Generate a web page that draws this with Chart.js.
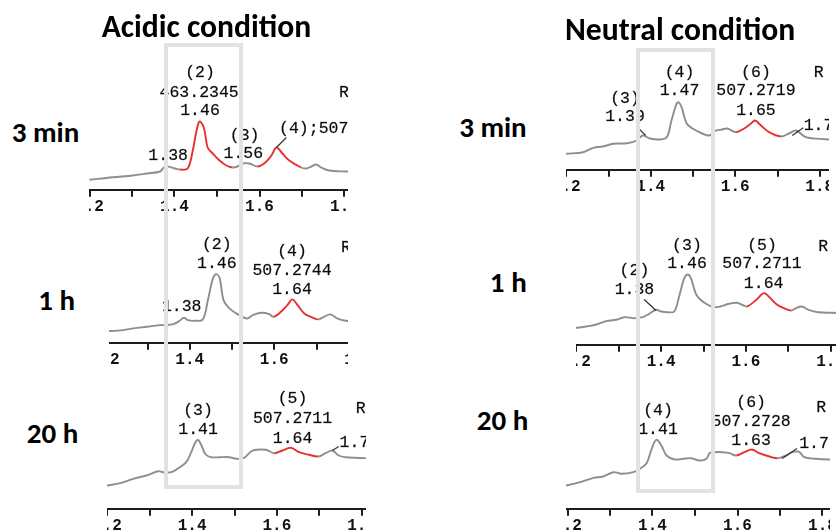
<!DOCTYPE html>
<html><head><meta charset="utf-8">
<script src="https://cdn.jsdelivr.net/npm/chart.js@4.4.1/dist/chart.umd.min.js"></script>
<style>
html,body{margin:0;padding:0;background:#fff;}
body{width:836px;height:530px;overflow:hidden;position:relative;}
.clip{position:absolute;top:0;height:530px;overflow:hidden;z-index:1;}
.clip canvas{position:absolute;}
.box{position:absolute;border:4px solid #e2e2e2;box-sizing:border-box;z-index:5;}
.lbl{position:absolute;font-weight:bold;color:#000;white-space:nowrap;z-index:6;}
</style></head><body>
<script>
// ---------------- data (retention time in min, intensity in arbitrary units) ----------------
// Acidic, 3 min
const tlRt  = [1.200,1.255,1.302,1.335,1.366,1.375,1.384,1.401,1.412,1.431,1.443,1.452,1.459,1.469,1.478,1.490,1.506,1.522,1.537,1.548,1.560,1.576,1.595,1.611,1.628,1.640,1.654,1.670,1.698,1.710,1.722,1.733,1.745,1.764,1.804,1.830];
const tlInt = [10,12.6,14.3,16.3,18.3,22.3,23.3,21.3,20.3,21.3,39.3,59.3,68.3,62.3,42.3,36.3,29.3,24.3,22.3,23.3,26.3,26.3,23.3,26.3,34.3,42.3,36.3,29.3,22.3,21.3,23.3,25.3,22.3,19.3,18.3,18];
const tlRed = [[1.412,1.537],[1.595,1.698]];
// Neutral, 3 min
const trRt  = [1.180,1.200,1.240,1.264,1.287,1.311,1.344,1.367,1.381,1.398,1.421,1.438,1.449,1.461,1.466,1.473,1.485,1.499,1.522,1.539,1.551,1.569,1.581,1.602,1.621,1.638,1.647,1.661,1.680,1.708,1.727,1.744,1.767,1.814,1.840];
const trInt = [15,16,17.6,22,23.3,26,26.6,29.3,34.3,31.3,30.3,32.6,49.3,66,67.6,62.6,46.3,41.3,36.3,34.3,38.6,40.3,41.3,37.6,41.3,46.6,49.3,44.3,37.6,33.3,36.3,39.3,32.6,30.6,30.3];
const trRed = [[1.602,1.708]];
// Acidic, 1 h
const mlRt  = [1.190,1.210,1.243,1.267,1.298,1.329,1.341,1.361,1.376,1.386,1.396,1.412,1.431,1.443,1.455,1.463,1.471,1.480,1.494,1.510,1.525,1.537,1.549,1.569,1.588,1.598,1.616,1.631,1.643,1.655,1.671,1.690,1.704,1.718,1.733,1.749,1.769,1.790];
const mlInt = [11.5,11.7,12.7,14.4,16,17.7,17.7,18.7,22,25,22.7,22,23.4,42.7,64.4,68.7,64.4,42.7,34.4,29.4,26,24.4,27.7,30,28.7,26,31,37.7,43.4,37.7,29.4,25.4,23.4,26,28.4,24.4,22,21.5];
const mlRed = [[1.598,1.704]];
// Neutral, 1 h
const mrRt  = [1.190,1.200,1.223,1.247,1.270,1.294,1.313,1.337,1.356,1.372,1.388,1.400,1.415,1.431,1.442,1.454,1.462,1.470,1.482,1.493,1.509,1.525,1.540,1.560,1.579,1.595,1.603,1.623,1.637,1.644,1.654,1.673,1.693,1.707,1.720,1.732,1.748,1.771,1.802,1.820];
const mrInt = [16.5,17,18.3,20.3,23.6,25,27.6,26.6,27.6,31,35,33.3,32.6,33.3,47.6,66,70.3,67,51,45,40.3,37.6,38.3,41,42,39.3,38.3,44.3,50.3,51.6,48.3,40.3,36,34.3,37,38.3,35,32.6,32,31.8];
const mrRed = [[1.603,1.707]];
// Acidic, 20 h
const blRt  = [1.190,1.200,1.230,1.261,1.292,1.320,1.331,1.351,1.371,1.386,1.398,1.406,1.414,1.422,1.432,1.445,1.465,1.488,1.504,1.523,1.539,1.551,1.574,1.594,1.613,1.633,1.652,1.676,1.698,1.715,1.731,1.746,1.762,1.785,1.820];
const blInt = [22.5,23.3,25.6,30,33.3,37.6,36.6,36.6,41.6,46.6,56.6,65,69,63.3,54.3,51.6,51.6,51.6,50,51,57.3,59,59,55.6,58.3,61,56.6,54,52.3,55.6,58.3,53.3,51.6,51,50.5];
const blRed = [[1.594,1.698]];
// Neutral, 20 h
const brRt  = [1.180,1.197,1.230,1.261,1.284,1.308,1.327,1.355,1.370,1.386,1.398,1.409,1.421,1.433,1.452,1.472,1.491,1.511,1.527,1.534,1.546,1.565,1.581,1.597,1.616,1.634,1.651,1.675,1.694,1.714,1.729,1.745,1.757,1.784,1.815,1.840];
const brInt = [22.5,23.3,26.6,31,32.3,36.6,35,36.6,40,45.6,60,69,63.3,53.3,49.3,50,50.6,48.3,50,55.6,56.6,56.6,55.6,53.3,56.6,59.3,55.6,52.3,50.6,53.3,56.6,57,51.6,50,49.3,49.3];
const brRed = [[1.597,1.694]];

// peak annotations: [text, rt, intensity, align]
const tlNotes = [["(2)",1.460,117.6,"c"],["463.2345",1.458,97.6,"c"],["1.46",1.460,79.3,"c"],["1.38",1.385,34.3,"c"],["(3)",1.565,54.3,"c"],["1.56",1.562,36,"c"],["(4);507.2744",1.646,61,"l"],["R",1.787,97.6,"l"]];
const trNotes = [["(4)",1.468,97.6,"c"],["1.47",1.468,79.3,"c"],["(6)",1.649,97.6,"c"],["507.2719",1.649,79.3,"c"],["1.65",1.649,59.3,"c"],["(3)",1.339,71,"c"],["1.39",1.339,53.3,"c"],["R",1.786,97.6,"l"],["1.7",1.762,44.3,"l"]];
const mlNotes = [["(2)",1.464,98,"c"],["1.46",1.464,79.4,"c"],["(4)",1.642,90.7,"c"],["507.2744",1.642,72,"c"],["1.64",1.642,53.4,"c"],["1.38",1.381,36,"c"],["R",1.758,94.7,"l"]];
const mrNotes = [["(3)",1.461,99.6,"c"],["1.46",1.461,81,"c"],["(5)",1.638,99.6,"c"],["507.2711",1.638,81,"c"],["1.64",1.642,61,"c"],["(2)",1.337,74.3,"c"],["1.38",1.337,55,"c"],["R",1.771,98.3,"l"]];
const blNotes = [["(3)",1.414,98.3,"c"],["1.41",1.414,79,"c"],["(5)",1.637,110,"c"],["507.2711",1.637,90,"c"],["1.64",1.637,70,"c"],["1.7",1.748,66.6,"l"],["R",1.786,100.3,"l"]];
const brNotes = [["(4)",1.413,98.3,"c"],["1.41",1.413,79,"c"],["(6)",1.632,106.6,"c"],["507.2728",1.632,87.6,"c"],["1.63",1.632,68.3,"c"],["R",1.785,101.6,"l"],["1.7",1.745,65.3,"l"]];
// leader lines: [rt1, int1, rt2, int2]
const tlLeaders = [[1.640,42.3,1.663,52.3]];
const trLeaders = [[1.370,42,1.388,34.3],[1.735,34.3,1.761,42]];
const mlLeaders = [];
const mrLeaders = [[1.360,45.3,1.388,34.3]];
const blLeaders = [[1.731,58.3,1.746,62.3]];
const brLeaders = [[1.705,50.3,1.740,60.3]];

// axis
const xMin = 1.1, xMax = 1.9, xStep = 0.1;
const tickLabel = v => { const k = Math.round(v * 10); return k % 2 === 0 ? (k / 10).toFixed(1) : ''; };

// titles
const colTitles = ["Acidic condition", "Neutral condition"];
const rowTitles = ["3 min", "1 h", "20 h"];

// ---------------- layout ----------------
const GRAY = '#8e8e8e', RED = '#e8312f', AXIS = '#1c1c1c';
const panels = [
  {rt:tlRt, it:tlInt, red:tlRed, notes:tlNotes, leaders:tlLeaders, clipL:89,  clipR:348, x12:89.3,  ppm:427, axisY:189.3},
  {rt:trRt, it:trInt, red:trRed, notes:trNotes, leaders:trLeaders, clipL:566, clipR:829, x12:566,   ppm:425, axisY:169.3},
  {rt:mlRt, it:mlInt, red:mlRed, notes:mlNotes, leaders:mlLeaders, clipL:109, clipR:348, x12:105,   ppm:425, axisY:342.7},
  {rt:mrRt, it:mrInt, red:mrRed, notes:mrNotes, leaders:mrLeaders, clipL:576, clipR:836, x12:576.7, ppm:426, axisY:344.3},
  {rt:blRt, it:blInt, red:blRed, notes:blNotes, leaders:blLeaders, clipL:107, clipR:366, x12:107.3, ppm:426, axisY:508.3},
  {rt:brRt, it:brInt, red:brRed, notes:brNotes, leaders:brLeaders, clipL:566, clipR:830, x12:567.3, ppm:427, axisY:508.3}
];

function makeNotes(notes, leaders) {
  return {
    id: 'peakNotes',
    afterDatasetsDraw(chart) {
      const ctx = chart.ctx, x = chart.scales.x, y = chart.scales.y;
      ctx.save();
      ctx.strokeStyle = '#333'; ctx.lineWidth = 1.2;
      leaders.forEach(l => {
        ctx.beginPath();
        ctx.moveTo(x.getPixelForValue(l[0]), y.getPixelForValue(l[1]));
        ctx.lineTo(x.getPixelForValue(l[2]), y.getPixelForValue(l[3]));
        ctx.stroke();
      });
      ctx.font = '16.5px "Liberation Mono", "DejaVu Sans Mono", monospace';
      ctx.fillStyle = '#0a0a0a'; ctx.textBaseline = 'middle';
      ctx.strokeStyle = 'rgba(10,10,10,0.55)'; ctx.lineWidth = 0.35;
      notes.forEach(n => {
        ctx.textAlign = n[3] === 'l' ? 'left' : 'center';
        const px = x.getPixelForValue(n[1]), py = y.getPixelForValue(n[2]);
        ctx.fillText(n[0], px, py);
        ctx.strokeText(n[0], px, py);
      });
      ctx.restore();
    }
  };
}
const inRed = (ranges, a, b) => ranges.some(r => a >= r[0] - 1e-6 && b <= r[1] + 1e-6);

panels.forEach(p => {
  const box = document.createElement('div');
  box.className = 'clip';
  box.style.left = p.clipL + 'px';
  box.style.width = (p.clipR - p.clipL) + 'px';
  document.body.appendChild(box);
  const cv = document.createElement('canvas');
  const H = 200;
  let W = Math.round((xMax - xMin) * p.ppm);
  cv.width = W; cv.height = H;
  cv.style.width = W + 'px'; cv.style.height = H + 'px';
  box.appendChild(cv);
  const chart = new Chart(cv, {
    type: 'line',
    data: { datasets: [{
      data: p.rt.map((x, i) => ({x: x, y: p.it[i]})),
      borderColor: GRAY, borderWidth: 1.9, pointRadius: 0, tension: 0.35, fill: false,
      segment: { borderColor: c => inRed(p.red, c.p0.parsed.x, c.p1.parsed.x) ? RED : GRAY }
    }]},
    options: {
      responsive: false, animation: false, events: [], devicePixelRatio: 1,
      layout: { padding: 0, autoPadding: false },
      plugins: { legend: {display: false}, tooltip: {enabled: false} },
      scales: {
        x: {
          type: 'linear', min: xMin, max: xMax,
          grid: { drawOnChartArea: false, drawTicks: true, tickLength: 7, color: AXIS, lineWidth: 2 },
          border: { display: true, color: AXIS, width: 2 },
          ticks: { stepSize: xStep, includeBounds: false, autoSkip: false, maxRotation: 0, minRotation: 0, padding: 1,
                   color: '#111', font: { family: '"Liberation Mono", monospace', size: 16, weight: 'bold' },
                   callback: tickLabel }
        },
        y: { display: false, min: 0, max: 150 }
      }
    },
    plugins: [makeNotes(p.notes, p.leaders)]
  });
  // make 1 intensity unit = 1 px and match the time scale
  let ca = chart.chartArea;
  const wantW = (xMax - xMin) * p.ppm;
  if (Math.abs(ca.width - wantW) > 0.5) {
    W = Math.round(W + (wantW - ca.width));
    chart.resize(W, H);
    ca = chart.chartArea;
  }
  chart.options.scales.y.max = ca.bottom - ca.top;
  chart.update();
  const px12 = chart.scales.x.getPixelForValue(1.2);
  cv.style.left = (p.x12 - px12 - p.clipL) + 'px';
  cv.style.top = (p.axisY - chart.chartArea.bottom) + 'px';
});

// highlight boxes
[[163.5, 43, 79, 446], [636, 48, 79, 445]].forEach(b => {
  const d = document.createElement('div');
  d.className = 'box';
  d.style.left = b[0] + 'px'; d.style.top = b[1] + 'px';
  d.style.width = b[2] + 'px'; d.style.height = b[3] + 'px';
  document.body.appendChild(d);
});

// titles (sized to the widths seen in the figure)
const FAM = 'Carlito, Lato, "Open Sans", sans-serif';
const mctx = document.createElement('canvas').getContext('2d');
function place(text, fs, x, baseline, alignRight) {
  mctx.font = 'bold ' + fs + 'px ' + FAM;
  const m = mctx.measureText(text);
  const A = m.fontBoundingBoxAscent, D = m.fontBoundingBoxDescent;
  const d = document.createElement('div');
  d.className = 'lbl';
  d.textContent = text;
  d.style.fontFamily = FAM;
  d.style.fontSize = fs + 'px';
  d.style.lineHeight = (A + D) + 'px';
  d.style.top = (baseline - A) + 'px';
  d.style.left = (alignRight ? x - m.width : x) + 'px';
  document.body.appendChild(d);
}
function fitSize(text, width) {
  mctx.font = 'bold 100px ' + FAM;
  return 100 * width / mctx.measureText(text).width;
}
const tFs = (fitSize(colTitles[0], 210) + fitSize(colTitles[1], 230)) / 2;
place(colTitles[0], tFs, 101.7, 36.5, false);
place(colTitles[1], tFs, 565, 40, false);
const rFs = fitSize(rowTitles[0], 67.6);
[[79.3, 141.7], [75, 309.9], [78.3, 443.3]].forEach((q, i) => place(rowTitles[i], rFs, q[0], q[1], true));
[[526.7, 136.7], [526.7, 291.7], [528.3, 430]].forEach((q, i) => place(rowTitles[i], rFs, q[0], q[1], true));
</script>
</body></html>
